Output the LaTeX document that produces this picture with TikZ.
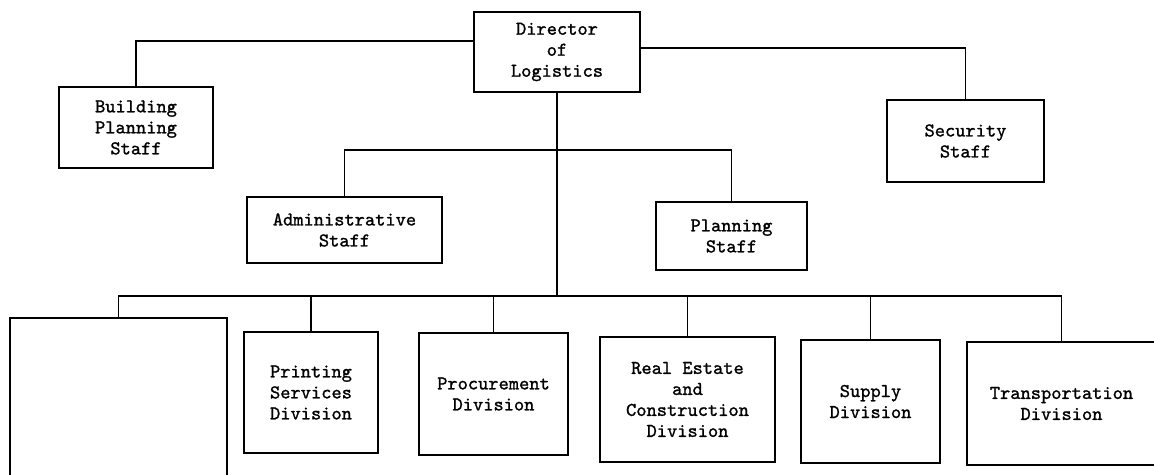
\documentclass[tikz,border=0pt]{standalone}
\usepackage{fontspec}
\newfontfamily\typewriter{lmmono10-regular.otf}[FakeBold=1.2]
\begin{document}
\begin{tikzpicture}
[x=1pt,y=-1pt,
  boxdecorate/.style={shape=rectangle,draw,line width=1.5pt,inner sep=0pt,align=center,
    font=\typewriter\fontsize{19.5}{21}\selectfont},%
  linedecorate/.style={-,line width=1.5pt},
  elbow/.style={to path={-| (\tikztotarget)}}]
\useasboundingbox (0,0) rectangle (1154,474);
%% boxes of the chart
\foreach \nodename/\x/\y/\w/\h/\txt in {
  dir/557/52/166/80/{Director\\of\\Logistics},
  bps/136/127.5/154/81/{Building\\Planning\\Staff},
  sec/965.5/141/157/82/{Security\\Staff},
  adm/344.5/230/195/66/{Administrative\\Staff},
  pln/731.5/236/151/68/{Planning\\Staff},
  blk/118.5/419/217/202/{},
  prt/311/392.5/134/121/{Printing\\Services\\Division},
  prc/493.5/394/149/122/{Procurement\\Division},
  rec/687.5/399.5/175/125/{Real Estate\\and\\Construction\\Division},
  sup/870.5/401.5/139/123/{Supply\\Division},
  trn/1061.5/403.5/189/123/{Transportation\\Division}} {
  \node (\nodename) at (\x,\y) [boxdecorate,minimum width=\w pt,minimum height=\h pt] {\txt};
}
%% junctions on the trunk
\coordinate (mid) at (557,150);
\coordinate (hub) at (557,296);
%% lines
\draw[linedecorate] ([yshift=11pt]dir.west) -| (bps);
\draw[linedecorate] ([yshift=4pt]dir.east) -| (sec);
\draw[linedecorate] (dir) -- (hub);
\path
\foreach \endnode in {adm, pln} {
  (mid) edge[linedecorate,elbow] (\endnode)
}
\foreach \endnode in {blk, prt, prc, rec, sup, trn} {
  (hub) edge[linedecorate,elbow] (\endnode)
};
\end{tikzpicture}
\end{document}
